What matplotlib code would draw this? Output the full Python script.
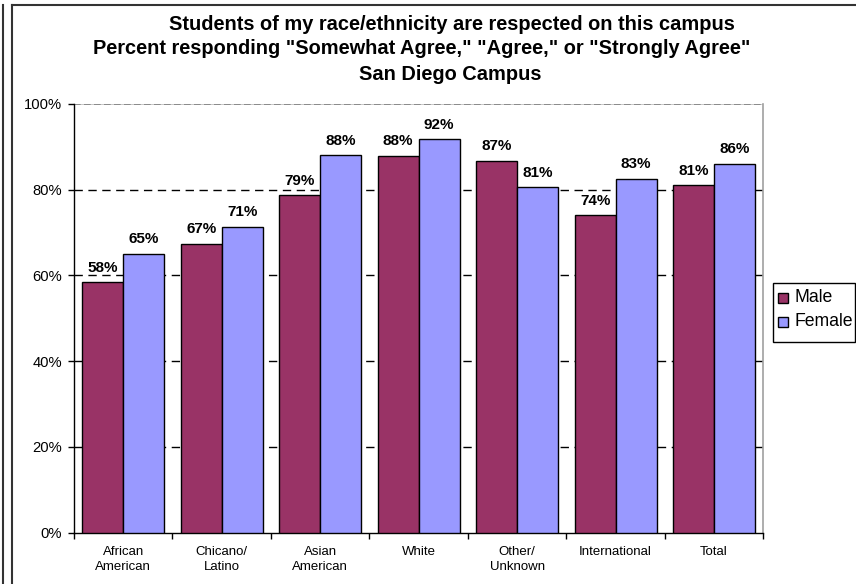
import matplotlib
matplotlib.use("Agg")
import matplotlib.pyplot as plt
from matplotlib.lines import Line2D
from matplotlib.patches import Rectangle
import numpy as np

categories = ["African\nAmerican", "Chicano/\nLatino", "Asian\nAmerican", "White",
              "Other/\nUnknown", "International", "Total"]
male = [58.4, 67.4, 78.7, 87.9, 86.8, 74.0, 81.0]
female = [65.1, 71.4, 88.1, 91.8, 80.6, 82.6, 86.1]
yticks = [0, 20, 40, 60, 80, 100]
title_lines = ["Students of my race/ethnicity are respected on this campus",
               'Percent responding "Somewhat Agree," "Agree," or "Strongly Agree"',
               "San Diego Campus"]
series_names = ["Male", "Female"]

plt.rcParams['font.family'] = ['Liberation Sans', 'DejaVu Sans']

W, H = 856, 584
fig = plt.figure(figsize=(W / 100, H / 100), dpi=100)

def fx(px):
    return px / W

def fy(py):
    return 1 - py / H

ax_left, ax_right, ax_top, ax_bot = 74, 763.3, 104, 532.7
ax = fig.add_axes([fx(ax_left), fy(ax_bot), fx(ax_right - ax_left), (ax_bot - ax_top) / H])

x = np.arange(len(categories))
bw = 0.416
cm = "#993366"
cf = "#9999FF"
b1 = ax.bar(x - bw / 2, male, bw, color=cm, edgecolor="black", linewidth=1.0, zorder=3)
b2 = ax.bar(x + bw / 2, female, bw, color=cf, edgecolor="black", linewidth=1.0, zorder=3)

for bars, vals in ((b1, male), (b2, female)):
    for r, v in zip(bars, vals):
        ax.annotate(f"{round(v):d}%", (r.get_x() + r.get_width() / 2, v),
                    xytext=(0, 7.5), textcoords="offset points", ha="center",
                    va="baseline", fontsize=11, fontweight="bold", zorder=5)

ax.set_xlim(-0.5, len(categories) - 0.5)
ax.set_ylim(0, 100)
ax.set_yticks(yticks)
ax.set_yticklabels([f"{t}%" for t in yticks])
ax.tick_params(axis="y", length=4.3, width=1, pad=4.3, labelsize=10.6, direction="out")

# gridlines
for t in yticks[1:-1]:
    ax.axhline(t, color="black", linewidth=1, linestyle=(0, (6, 4)), zorder=1)
ax.axhline(100, color="#c0c0c0", linewidth=1.2, zorder=1)
ax.axhline(100, color="#808080", linewidth=1.2, linestyle=(0, (4, 2)), zorder=2)

ax.set_xticks(np.arange(len(categories) + 1) - 0.5)
ax.set_xticklabels([])
ax.tick_params(axis="x", which="major", length=4, width=1, direction="out")
ax.set_xticks(x, minor=True)
ax.set_xticklabels(categories, minor=True, fontsize=9.5, linespacing=1.3)
ax.tick_params(axis="x", which="minor", length=0, pad=9.5)

ax.spines["top"].set_visible(False)
ax.spines["right"].set_color("#a0a0a0")
ax.spines["right"].set_linewidth(1.2)
ax.spines["left"].set_linewidth(1)
ax.spines["bottom"].set_linewidth(1)

# title lines
centers = [452, 422, 450]
baselines = [29.5, 54.5, 79.5]
for t, cx, by in zip(title_lines, centers, baselines):
    fig.text(fx(cx), fy(by), t, ha="center", va="baseline", fontsize=14.4,
             fontweight="bold")

# legend box
lx0, ly0, lx1, ly1 = 773.3, 283.3, 855, 341.7
fig.add_artist(Rectangle((fx(lx0), fy(ly1)), fx(lx1 - lx0), (ly1 - ly0) / H,
                         transform=fig.transFigure, facecolor="white",
                         edgecolor="black", linewidth=1))
for i, (name, c) in enumerate(zip(series_names, [cm, cf])):
    cy = 297.5 + i * 24.3
    s = 10
    fig.add_artist(Rectangle((fx(778), fy(cy + s / 2)), fx(s), s / H,
                             transform=fig.transFigure, facecolor=c,
                             edgecolor="black", linewidth=1))
    fig.text(fx(794), fy(cy), name, ha="left", va="center", fontsize=12.7)

# chart frame
fc = "#333333"
fig.add_artist(Line2D([fx(3), fx(3)], [fy(5), 0], transform=fig.transFigure,
                      color=fc, linewidth=1.5))
fig.add_artist(Line2D([fx(12), fx(12)], [fy(5), 0], transform=fig.transFigure,
                      color=fc, linewidth=1.5))
fig.add_artist(Line2D([fx(12), 1], [fy(5), fy(5)], transform=fig.transFigure,
                      color=fc, linewidth=1.5))

fig.savefig("out.png", dpi=100)
